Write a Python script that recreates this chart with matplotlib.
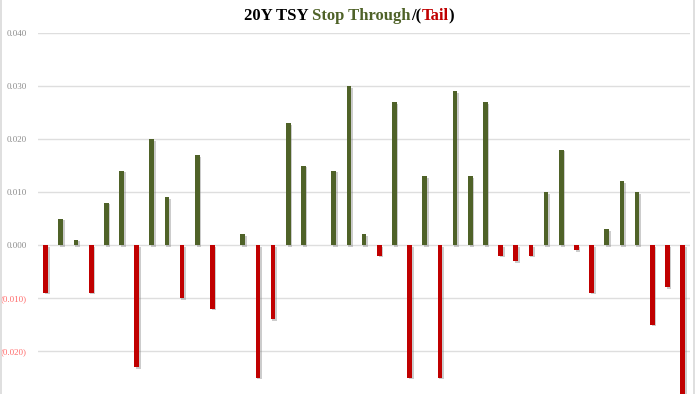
import matplotlib
matplotlib.use("Agg")
import matplotlib.pyplot as plt
import matplotlib.patheffects as pe
from matplotlib.ticker import FuncFormatter
from matplotlib.textpath import TextPath
from matplotlib.font_manager import FontProperties

# stop-through (+) / tail (-) per auction, oldest -> newest
values = [-0.009, 0.005, 0.001, -0.009, 0.008, 0.014, -0.023, 0.020, 0.009, -0.010,
          0.017, -0.012, 0.000, 0.002, -0.025, -0.014, 0.023, 0.015, 0.000, 0.014,
          0.030, 0.002, -0.002, 0.027, -0.025, 0.013, -0.025, 0.029, 0.013, 0.027,
          -0.002, -0.003, -0.002, 0.010, 0.018, -0.001, -0.009, 0.003, 0.012, 0.010,
          -0.015, -0.008, -0.030]
yticks = [-0.020, -0.010, 0.000, 0.010, 0.020, 0.030, 0.040]

green = '#4F6228'
red = '#C00000'

fig = plt.figure(figsize=(7, 3.94), dpi=100)
ax = fig.add_axes([38.1 / 700, 0, 652 / 700, 361 / 394])

x = list(range(len(values)))
colors = [green if v >= 0 else red for v in values]
bars = ax.bar(x, values, width=0.31, color=colors, zorder=3)
for b in bars:
    b.set_path_effects([pe.SimplePatchShadow(offset=(1.2, -1.2), shadow_rgbFace='#808080', alpha=0.4),
                        pe.Normal()])

ax.set_xlim(-0.5, len(values) - 0.5)
ax.set_ylim(-0.02811, 0.040)
ax.set_yticks(yticks)
ax.yaxis.set_major_formatter(FuncFormatter(lambda v, p: f'({abs(v):.3f})' if v < -1e-9 else f'{abs(v):.3f}'))
ax.grid(axis='y', color='#DEDEDE', linewidth=1.0, zorder=0)
ax.set_xticks([])
for s in ax.spines.values():
    s.set_visible(False)
ax.tick_params(axis='y', length=0, pad=8)
for lbl, v in zip(ax.get_yticklabels(), yticks):
    lbl.set_fontfamily('Liberation Serif')
    lbl.set_fontsize(6.5)
    lbl.set_color('#FF6B6B' if v < 0 else '#8C8C8C')

# figure border lines (left and right)
fig.add_artist(plt.Line2D([1.0 / 700, 1.0 / 700], [0, 1], color='#D9D9D9', lw=1.2))
fig.add_artist(plt.Line2D([693.5 / 700, 693.5 / 700], [0, 1], color='#D9D9D9', lw=1.2))

# multi-coloured title; piece offsets from glyph advances (TextPath, in points)
parts = [('20Y TSY ', 'black'), ('Stop Through', green), ('/(', 'black'), ('Tail', red), (')', 'black')]
fsize = 12
fp = FontProperties(family='Liberation Serif', weight='bold', size=fsize)

def xmax(s):
    return TextPath((0, 0), s, size=fsize, prop=fp).get_extents().x1

def advance(prefix, nxt):
    return xmax(prefix + nxt[0]) - xmax(nxt[0])

full = ''.join(p for p, _ in parts)
total_px = xmax(full) * 100 / 72
x0 = 349 - total_px / 2
prefix = ''
for s, c in parts:
    off = advance(prefix, s) * 100 / 72 if prefix else 0
    fig.text((x0 + off) / 700, 1 - 20 / 394, s, color=c, fontproperties=fp,
             ha='left', va='baseline')
    prefix += s

fig.savefig('out.png', dpi=100)
